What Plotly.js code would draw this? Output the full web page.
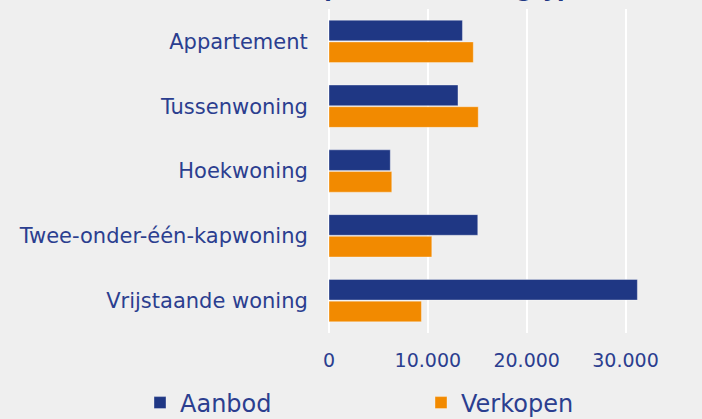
<!DOCTYPE html>
<html>
<head>
<meta charset="utf-8">
<script src="https://cdn.plot.ly/plotly-3.0.1.min.js"></script>
<style>
  html, body { margin: 0; padding: 0; background: #efefef; }
  #chart { width: 702px; height: 419px; }
</style>
</head>
<body>
<div id="chart"></div>
<script>
// aanbod en verkopen per woningtype
var woningtypes = ["Appartement", "Tussenwoning", "Hoekwoning", "Twee-onder-één-kapwoning", "Vrijstaande woning"];
var aanbod = [13500, 13050, 6200, 15050, 31200];
var verkopen = [14600, 15100, 6350, 10400, 9350];

var blauw = "#1f3784";
var oranje = "#f28a00";
var tekstkleur = "#2b3e8f";
var font = "DejaVu Sans";

var traceAanbod = {
    y: woningtypes,
    x: aanbod,
    name: "Aanbod",
    type: "bar",
    orientation: "h",
    legend: "legend",
    marker: {color: blauw, line: {color: "rgba(255,255,255,0.35)", width: 1}},
    hoverinfo: "x+y"
};

var traceVerkopen = {
    y: woningtypes,
    x: verkopen,
    name: "Verkopen",
    type: "bar",
    orientation: "h",
    legend: "legend2",
    marker: {color: oranje, line: {color: "rgba(255,255,255,0.35)", width: 1}},
    hoverinfo: "x+y"
};

var data = [traceAanbod, traceVerkopen];

// legenda's los van elkaar, zoals in het origineel
function legenda(xpx) {
    return {
        orientation: "h",
        xref: "container",
        x: xpx / 702,
        xanchor: "left",
        yref: "container",
        y: 16 / 419,
        yanchor: "middle",
        font: {family: font, size: 24, color: tekstkleur},
        bgcolor: "rgba(0,0,0,0)"
    };
}

var layout = {
    width: 702,
    height: 419,
    paper_bgcolor: "#efefef",
    plot_bgcolor: "#efefef",
    margin: {l: 329, r: 0, t: 9, b: 86},
    separators: ",.",
    font: {family: font, color: tekstkleur},
    annotations: [{
        text: "<b>Aanbod en verkopen naar woningtype</b>",
        font: {family: font, size: 22, color: blauw},
        xref: "paper",
        x: (351 - 329) / 373,
        xanchor: "center",
        yref: "paper",
        y: 1 + (9 + 10) / 324,
        yanchor: "middle",
        showarrow: false
    }],
    barmode: "group",
    bargap: 0.33,
    bargroupgap: 0.05,
    xaxis: {
        range: [0, 37740],
        tickvals: [0, 10000, 20000, 30000],
        tickformat: ",d",
        showgrid: true,
        gridcolor: "#ffffff",
        gridwidth: 2,
        zeroline: true,
        zerolinecolor: "#ffffff",
        zerolinewidth: 2,
        showline: false,
        ticks: "outside",
        ticklen: 10,
        tickcolor: "rgba(0,0,0,0)",
        tickfont: {family: font, size: 19, color: tekstkleur},
        fixedrange: true
    },
    yaxis: {
        autorange: "reversed",
        showgrid: false,
        zeroline: false,
        showline: false,
        ticks: "outside",
        ticklen: 16,
        tickcolor: "rgba(0,0,0,0)",
        tickfont: {family: font, size: 21, color: tekstkleur},
        fixedrange: true
    },
    showlegend: true,
    legend: legenda(140),
    legend2: legenda(421)
};

Plotly.newPlot("chart", data, layout, {displayModeBar: false, responsive: false});
</script>
</body>
</html>
